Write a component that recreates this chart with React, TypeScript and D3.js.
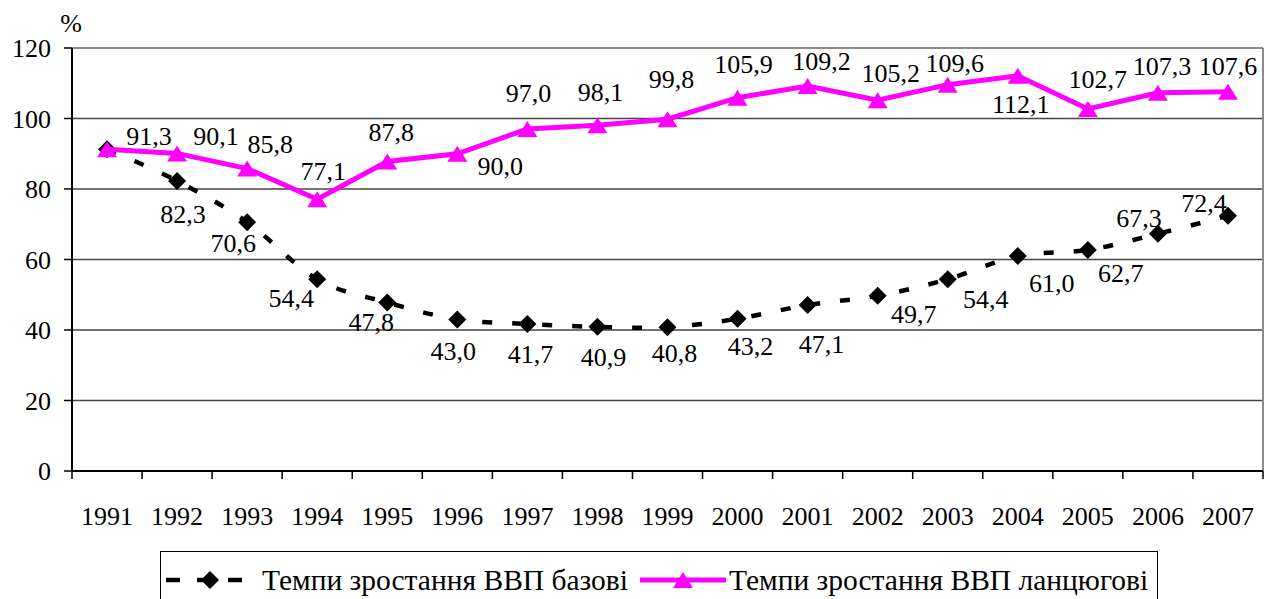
import React from 'react'
import * as d3 from 'd3'

// chart data
const years = ['1991', '1992', '1993', '1994', '1995', '1996', '1997', '1998', '1999',
  '2000', '2001', '2002', '2003', '2004', '2005', '2006', '2007']
const baseRates = [91.3, 82.3, 70.6, 54.4, 47.8, 43.0, 41.7, 40.9, 40.8, 43.2, 47.1, 49.7, 54.4, 61.0, 62.7, 67.3, 72.4]
const chainRates = [91.3, 90.1, 85.8, 77.1, 87.8, 90.0, 97.0, 98.1, 99.8, 105.9, 109.2, 105.2, 109.6, 112.1, 102.7, 107.3, 107.6]
const yTicks = [0, 20, 40, 60, 80, 100, 120]
const baseName = 'Темпи зростання ВВП базові'
const chainName = 'Темпи зростання ВВП ланцюгові'

// label placement (dx, baseline dy relative to the point), like the hand-moved Excel labels
const chainLabelShift: [number, number][] = [
  [42, -4], [39, -8], [23, -16], [6, -19], [4, -21], [43, 21], [1, -27], [3, -24], [4, -31],
  [6, -25], [14, -16], [13, -18], [7, -13], [3, 37], [10, -21], [4, -18], [0, -17],
]
const baseLabelShift: ([number, number] | null)[] = [
  null, [6, 42], [-14, 30], [-26, 28], [-16, 28], [-4, 41], [3, 39], [6, 39], [7, 35],
  [13, 36], [14, 48], [36, 27], [38, 29], [34, 36], [33, 32], [-19, -7], [-24, -4],
]

const W = 1265
const H = 599
const margin = { top: 48, right: 2, bottom: 128, left: 72 }
const FONT = 'Liberation Serif'
const PINK = '#ff00ff'

const fmt = (v: number) => v.toFixed(1).replace('.', ',')

function diamond(cx: number, cy: number, r: number) {
  return `M${cx},${cy - r}L${cx + r},${cy}L${cx},${cy + r}L${cx - r},${cy}Z`
}
function triangle(cx: number, cy: number, w: number, h: number) {
  return `M${cx},${cy - h / 2}L${cx + w / 2},${cy + h / 2}L${cx - w / 2},${cy + h / 2}Z`
}

function T(props: { x: number; y: number; anchor?: string; size?: number; children: React.ReactNode }) {
  const size = props.size ?? 26
  return (
    <text x={props.x} y={props.y} textAnchor={props.anchor ?? 'start'}
      style={{ fontFamily: FONT, fontSize: `${size}px` }} fill="#000">
      {props.children}
    </text>
  )
}

export default function App() {
  const x0 = margin.left
  const x1 = W - margin.right
  const yTop = margin.top
  const yBottom = H - margin.bottom

  const x = d3.scaleBand<string>().domain(years).range([x0, x1]).padding(0)
  const cx = (yr: string) => (x(yr) ?? 0) + x.bandwidth() / 2
  const y = d3.scaleLinear().domain([0, 120]).range([yBottom, yTop])

  const baseLine = d3.line<number>()
    .x((_, i) => cx(years[i]))
    .y(d => y(d))
    .curve(d3.curveCatmullRom.alpha(0))
  const chainLine = d3.line<number>()
    .x((_, i) => cx(years[i]))
    .y(d => y(d))

  const boundaries = years.map(yr => x(yr) ?? 0).concat([x1])

  return (
    <svg width={W} height={H} style={{ position: 'absolute', left: 0, top: 0, background: '#fff' }}>
      {/* grid */}
      {yTicks.filter(t => t > 0 && t < 120).map(t => (
        <line key={t} x1={x0} x2={x1} y1={y(t)} y2={y(t)} stroke="#444" strokeWidth={1.3} />
      ))}
      {/* plot frame top/right */}
      <line x1={x0} x2={x1} y1={y(120)} y2={y(120)} stroke="#8c8c8c" strokeWidth={2} />
      <line x1={x1} x2={x1} y1={y(120)} y2={yBottom} stroke="#8c8c8c" strokeWidth={2} />

      {/* axes */}
      <line x1={x0} x2={x0} y1={yTop} y2={yBottom} stroke="#000" strokeWidth={2} />
      <line x1={x0} x2={x1} y1={yBottom} y2={yBottom} stroke="#000" strokeWidth={2} />
      {yTicks.map(t => (
        <g key={t}>
          <line x1={x0 - 8} x2={x0} y1={y(t)} y2={y(t)} stroke="#000" strokeWidth={1.5} />
          <T x={51} y={y(t) + 9} anchor="end">{t}</T>
        </g>
      ))}
      {boundaries.map((bx, i) => (
        <line key={i} x1={bx} x2={bx} y1={yBottom} y2={yBottom + 8} stroke="#000" strokeWidth={1.5} />
      ))}
      {years.map(yr => (
        <T key={yr} x={cx(yr)} y={525} anchor="middle">{yr}</T>
      ))}
      <T x={71} y={32} anchor="middle">%</T>

      {/* base series */}
      <path d={baseLine(baseRates) ?? ''} fill="none" stroke="#000" strokeWidth={4.5}
        strokeDasharray="10,20" />
      {baseRates.map((v, i) => (
        <path key={i} d={diamond(cx(years[i]), y(v), 9)} fill="#000" />
      ))}

      {/* chain series */}
      <path d={chainLine(chainRates) ?? ''} fill="none" stroke={PINK} strokeWidth={5} />
      {chainRates.map((v, i) => (
        <path key={i} d={triangle(cx(years[i]), y(v), 20, 16)} fill={PINK} />
      ))}

      {/* labels */}
      {baseRates.map((v, i) => {
        const s = baseLabelShift[i]
        if (!s) return null
        return <T key={i} x={cx(years[i]) + s[0]} y={y(v) + s[1]} anchor="middle">{fmt(v)}</T>
      })}
      {chainRates.map((v, i) => {
        const s = chainLabelShift[i]
        return <T key={i} x={cx(years[i]) + s[0]} y={y(v) + s[1]} anchor="middle">{fmt(v)}</T>
      })}

      {/* legend */}
      <rect x={160.5} y={551.5} width={997} height={60} fill="#fff" stroke="#000" strokeWidth={1} />
      <line x1={166} x2={242} y1={580} y2={580} stroke="#000" strokeWidth={4.5} strokeDasharray="14,17" />
      <path d={diamond(210, 580, 9)} fill="#000" />
      <T x={262} y={590} size={29.5}>{baseName}</T>
      <line x1={640} x2={726} y1={580} y2={580} stroke={PINK} strokeWidth={5} />
      <path d={triangle(683, 580, 20, 16)} fill={PINK} />
      <T x={729} y={590} size={29.5}>{chainName}</T>
    </svg>
  )
}
